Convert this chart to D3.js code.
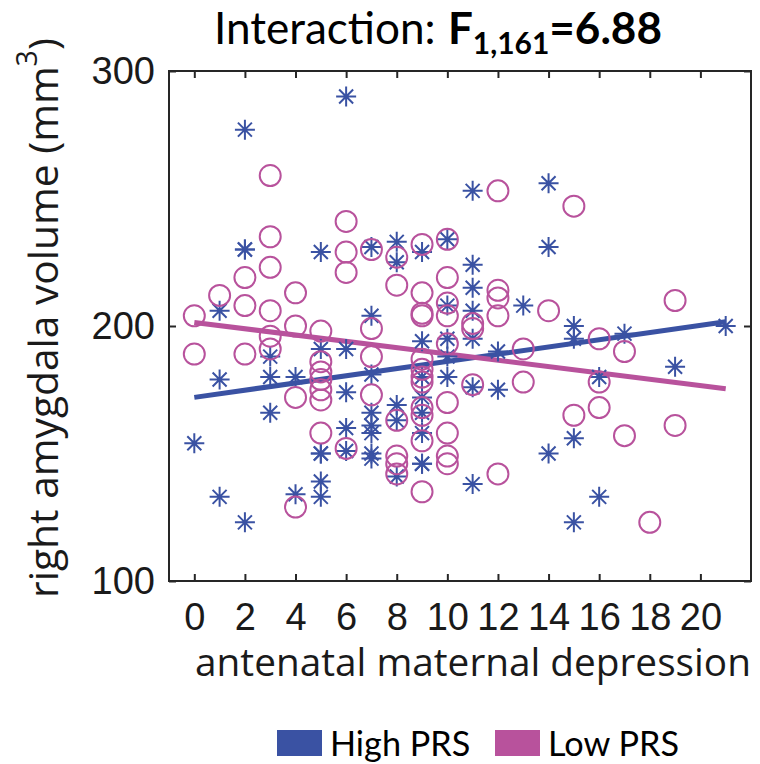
<!DOCTYPE html>
<html><head><meta charset="utf-8">
<script src="https://cdn.jsdelivr.net/npm/d3@7"></script>
<style>body{margin:0;background:#fff}</style>
</head><body><svg id="c" width="760" height="764"></svg>
<script>
// ---- data ----
const highDep = [0, 1,1,1, 2,2,2,2, 3,3,3, 4,4, 5,5,5,5,5,5, 6,6,6,6,6, 7,7,7,7,7,7,7,7, 8,8,8,8,8, 9,9,9,9,9,9,9,9, 10,10,10,10,10, 11,11,11,11,11,11,11, 12,12, 13, 14,14,14, 15,15,15,15, 16,16, 17, 19, 21];
const highVol = [154, 206,179,133, 277,230,230,123, 188,180,166, 180,134, 229,191,150,150,139,133, 290,191,174,160,151, 231,204,181,166,161,158,150,148, 233,225,169,163,141, 229,194,180,172,166,158,146,146, 234,208,195,188,180, 253,224,215,206,195,176,138, 190,175, 208, 256,231,150, 200,195,156,123, 180,133, 197, 184, 200];
const lowDep = [0,0, 1, 2,2,2, 3,3,3,3,3,3, 4,4,4,4, 5,5,5,5,5,5,5, 6,6,6,6, 7,7,7,7, 8,8,8,8,8,8, 9,9,9,9,9,9,9,9,9,9,9,9, 10,10,10,10,10,10,10,10,10, 11,11,11, 12,12,12,12,12, 13,13, 14, 15,15, 16,16,16, 17,17, 18, 19,19];
const lowVol = [204,189, 212, 219,208,189, 259,235,223,206,196,191, 213,200,172,129, 198,186,182,179,175,171,158, 241,229,221,152, 230,199,188,173, 227,216,163,149,146,142, 232,213,205,204,187,183,180,178,168,165,155,135, 234,219,209,204,193,170,158,149,146, 201,199,177, 253,214,211,204,142, 191,178, 206, 247,165, 195,178,168, 190,157, 123, 210,161];
const highFitX = [0, 21], highFitY = [172, 201.7];
const lowFitX = [0, 21], lowFitY = [201.4, 175.4];
const xTicks = [0,2,4,6,8,10,12,14,16,18,20];
const yTicks = [100,200,300];
const seriesNames = ["High PRS", "Low PRS"];
const seriesColors = ["#3a52a3", "#b8529c"];
const titleParts = [["Interaction:", "normal", 0, 0.28], ["F", "bold", 0, 0], ["1,161", "bold", 1, 0], ["=6.88", "bold", 0, 0]];

// ---- chart ----
const svg = d3.select("#c");
const x = d3.scaleLinear().domain([-1, 22]).range([169, 751]);
const y = d3.scaleLinear().domain([100, 300]).range([581, 71]);
const axisCol = "#262626";

svg.append("rect").attr("x", x(-1)).attr("y", y(300)).attr("width", x(22)-x(-1)).attr("height", y(100)-y(300))
  .attr("fill", "none").attr("stroke", axisCol).attr("stroke-width", 2);

const tickFont = "'Liberation Sans', Arial, sans-serif";
const labelFont = "'Open Sans', Lato, sans-serif";
const gB = svg.append("g").attr("transform", `translate(0,${y(100)})`)
  .call(d3.axisBottom(x).tickValues(xTicks).tickSize(-7).tickPadding(22).tickFormat(d3.format("d")));
const gT = svg.append("g").attr("transform", `translate(0,${y(300)})`)
  .call(d3.axisTop(x).tickValues(xTicks).tickSize(-7).tickFormat(""));
const gL = svg.append("g").attr("transform", `translate(${x(-1)},0)`)
  .call(d3.axisLeft(y).tickValues(yTicks).tickSize(-7).tickPadding(14).tickFormat(d3.format("d")));
const gR = svg.append("g").attr("transform", `translate(${x(22)},0)`)
  .call(d3.axisRight(y).tickValues(yTicks).tickSize(-7).tickFormat(""));
[gB, gT, gL, gR].forEach(g => {
  g.select(".domain").remove();
  g.selectAll(".tick line").attr("stroke", axisCol).attr("stroke-width", 2);
  g.selectAll(".tick text").attr("fill", "#1a1a1a").style("font-family", tickFont).style("font-size", "38px");
});
gB.selectAll(".tick text").attr("dy", "0.71em");

const line = d3.line().x(d => x(d[0])).y(d => y(d[1]));
svg.append("path").datum(highFitX.map((v,i)=>[v, highFitY[i]])).attr("d", line)
  .attr("stroke", seriesColors[0]).attr("stroke-width", 5).attr("fill", "none");
svg.append("path").datum(lowFitX.map((v,i)=>[v, lowFitY[i]])).attr("d", line)
  .attr("stroke", seriesColors[1]).attr("stroke-width", 5).attr("fill", "none");

const starPath = "M-10,0H10M0,-10V10M-7,-7L7,7M-7,7L7,-7";
svg.append("g").selectAll("path").data(highDep.map((d,i)=>[d, highVol[i]])).join("path")
  .attr("transform", d => `translate(${x(d[0])},${y(d[1])})`)
  .attr("d", starPath).attr("stroke", seriesColors[0]).attr("stroke-width", 2).attr("fill", "none");
svg.append("g").selectAll("circle").data(lowDep.map((d,i)=>[d, lowVol[i]])).join("circle")
  .attr("cx", d => x(d[0])).attr("cy", d => y(d[1])).attr("r", 10.5)
  .attr("stroke", seriesColors[1]).attr("stroke-width", 2).attr("fill", "none");

function fit(sel, target) {
  const w = sel.node().getComputedTextLength();
  const fs = parseFloat(sel.style("font-size"));
  const nf = fs * target / w;
  sel.style("font-size", nf + "px");
  return nf;
}

// x label
const xl = svg.append("text").attr("x", 473).attr("y", 676).attr("text-anchor", "middle")
  .style("font-family", labelFont).style("font-size", "34px").attr("fill", "#1a1a1a")
  .text("antenatal maternal depression");
fit(xl, 556);

// y label
const yl = svg.append("text").attr("transform", "translate(58,318) rotate(-90)").attr("text-anchor", "middle")
  .style("font-family", labelFont).style("font-size", "34px").attr("fill", "#1a1a1a");
yl.append("tspan").text("right amygdala volume (mm");
yl.append("tspan").attr("dy", "-0.75em").style("font-size", "0.7em").text("3");
yl.append("tspan").attr("dy", "0.525em").text(")");
fit(yl, 560);

// title, as separate text pieces laid out left to right
const titleFont = "Lato, 'Open Sans', sans-serif";
const tBase = 44;
const tg = svg.append("g");
function layoutTitle(tfs) {
  tg.selectAll("*").remove();
  let cx = 0;
  titleParts.forEach(([s, wgt, sub, gap]) => {
    const fs = sub ? tfs * 0.68 : tfs;
    const t = tg.append("text").attr("x", cx).attr("y", tBase + (sub ? tfs * 0.22 : 0))
      .style("font-family", titleFont).style("font-weight", wgt)
      .style("font-size", fs + "px").attr("fill", "#000").text(s);
    cx += t.node().getComputedTextLength() + gap * tfs;
  });
  return cx;
}
const w0 = layoutTitle(40);
const wT = layoutTitle(40 * 448 / w0);
tg.attr("transform", `translate(${438 - wT / 2},0)`);

// legend
const legX = [277, 495];
const legTexts = seriesNames.map((n, i) => {
  svg.append("rect").attr("x", legX[i]).attr("y", 730).attr("width", 45).attr("height", 26).attr("fill", seriesColors[i]);
  return svg.append("text").attr("x", legX[i] + 53).attr("y", 756)
    .style("font-family", titleFont).style("font-size", "32px").attr("fill", "#000").text(n);
});
const lf = fit(legTexts[1], 131);
legTexts[0].style("font-size", lf + "px");
</script>
</body></html>
